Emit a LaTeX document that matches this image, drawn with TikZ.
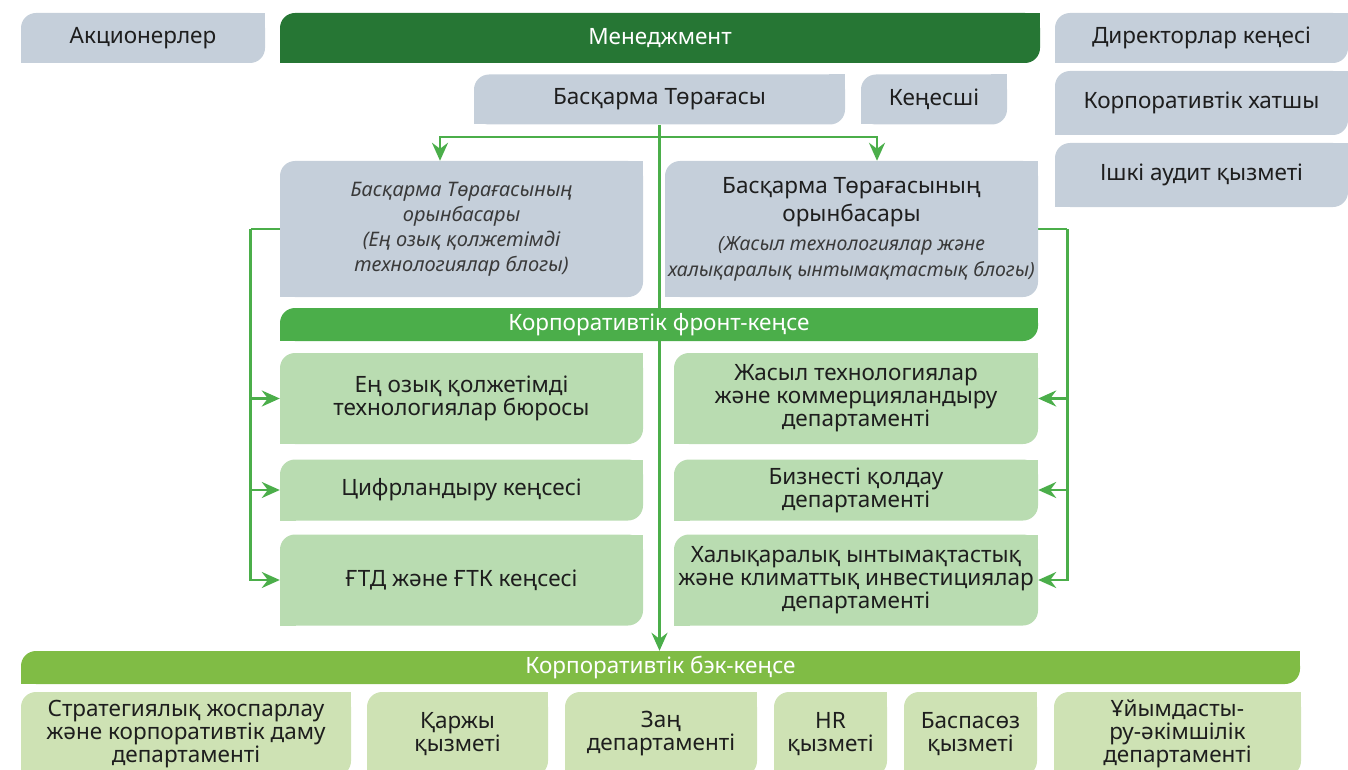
\documentclass[tikz,border=0pt]{standalone}
\usepackage{fontspec}
\setmainfont{Noto Sans}
\usetikzlibrary{arrows.meta,backgrounds}

\definecolor{boxgray}{HTML}{C5CFDA}
\definecolor{darkgreen}{HTML}{267634}
\definecolor{midgreen}{HTML}{4BAE4A}
\definecolor{palegreen}{HTML}{B9DCB1}
\definecolor{limegreen}{HTML}{80BC45}
\definecolor{palelime}{HTML}{CEE2B4}
\definecolor{inkgray}{HTML}{1E1E1E}
\definecolor{softgray}{HTML}{3A3A3A}

\newcommand{\blocknote}[1]{{\itshape\color{softgray}\fontsize{19.5}{25}\selectfont #1}}

\tikzset{
  leaf/.style={rectangle, inner sep=0pt, align=center, text=inkgray,
    font=\fontsize{22.5}{23}\selectfont,
    path picture={
      \fill[#1, rounded corners=15pt] (path picture bounding box.south west)
        rectangle (path picture bounding box.north east);
      \fill[#1] (path picture bounding box.south west) rectangle ++(16pt,16pt);
      \fill[#1] (path picture bounding box.north east) rectangle ++(-16pt,-16pt);
    }},
  bar/.style={leaf=#1, text=white},
  foot/.style={leaf=palelime, minimum height=84, font=\fontsize{22.5}{23}\selectfont},
  link/.style={draw=midgreen, line width=2.8pt},
  tip/.tip={Stealth[length=18pt,width=16pt,inset=6pt]},
}

\begin{document}
\begin{tikzpicture}[x=1pt,y=-1pt]
    \useasboundingbox (0,0) rectangle (1348,770);

    % Top row
    \node[leaf=boxgray, minimum width=244, minimum height=50] (owners) at (143,38) {Акционерлер};
    \node[bar=darkgreen, minimum width=760, minimum height=50] (mgmt) at (660,38) {Менеджмент};
    \node[leaf=boxgray, minimum width=293, minimum height=50] (board) at (1201.5,38) {Директорлар кеңесі};
    \node[leaf=boxgray, minimum width=293, minimum height=64] (secretary) at (1201.5,103) {Корпоративтік хатшы};
    \node[leaf=boxgray, minimum width=293, minimum height=64] (audit) at (1201.5,175) {Ішкі аудит қызметі};

    % Chairman and adviser
    \node[leaf=boxgray, minimum width=371, minimum height=50] (chair) at (659.5,99.5) {Басқарма Төрағасы};
    \node[leaf=boxgray, minimum width=146, minimum height=50] (adviser) at (934,99.5) {Кеңесші};

    % Deputies
    \node[leaf=boxgray, minimum width=363, minimum height=136, text=softgray,
          font=\itshape\fontsize{20}{25}\selectfont] (depL) at (461.5,229)
        {Басқарма Төрағасының\\орынбасары\\(Ең озық қолжетімді\\технологиялар блогы)};
    \node[leaf=boxgray, minimum width=373, minimum height=136] (depR) at (851.5,229)
        {Басқарма Төрағасының\\[5pt]орынбасары\\[6pt]
         \blocknote{(Жасыл технологиялар және}\\[3pt]\blocknote{халықаралық ынтымақтастық блогы)}};

    % Front office
    \node[bar=midgreen, minimum width=758, minimum height=33] (front) at (659,324.5) {Корпоративтік фронт-кеңсе};

    \node[leaf=palegreen, minimum width=363, minimum height=91] (bureau) at (461.5,398.5)
        {Ең озық қолжетімді\\технологиялар бюросы};
    \node[leaf=palegreen, minimum width=363, minimum height=61] (digital) at (461.5,490)
        {Цифрландыру кеңсесі};
    \node[leaf=palegreen, minimum width=363, minimum height=91] (ftd) at (461.5,580)
        {ҒТД және ҒТК кеңсесі};

    \node[leaf=palegreen, minimum width=364, minimum height=91] (greentech) at (856,398.5)
        {Жасыл технологиялар\\және коммерцияландыру\\департаменті};
    \node[leaf=palegreen, minimum width=364, minimum height=61] (business) at (856,490)
        {Бизнесті қолдау\\департаменті};
    \node[leaf=palegreen, minimum width=364, minimum height=91] (climate) at (856,580)
        {Халықаралық ынтымақтастық\\және климаттық инвестициялар\\департаменті};

    % Back office
    \node[bar=limegreen, minimum width=1279, minimum height=33] (back) at (660.5,667.5) {Корпоративтік бэк-кеңсе};

    \node[foot, minimum width=330] (strategy) at (186,734)
        {Стратегиялық жоспарлау\\және корпоративтік даму\\департаменті};
    \node[foot, minimum width=181] (finance) at (457.5,734) {Қаржы\\қызметі};
    \node[foot, minimum width=192] (legal) at (661,734) {Заң\\департаменті};
    \node[foot, minimum width=113] (hr) at (830.5,734) {HR\\қызметі};
    \node[foot, minimum width=133] (press) at (970.5,734) {Баспасөз\\қызметі};
    \node[foot, minimum width=247] (admin) at (1177.5,734) {Ұйымдасты-\\ру-әкімшілік\\департаменті};

    % Connectors behind the boxes
    \begin{scope}[on background layer]
        \draw[link, -{tip}] (chair.south) -- (chair.south |- back.north);
        \coordinate (split) at (chair.south |- 0,137);
        \draw[link, -{tip}] (split) -| ([xshift=-21.5pt]depL.north);
        \draw[link, -{tip}] (split) -| ([xshift=25.5pt]depR.north);

        % Left rail
        \draw[link] (depL.west) -- ++(-29,0) coordinate (railL);
        \draw[link, -{tip}] (railL) |- (bureau.west);
        \draw[link, -{tip}] (railL) |- (digital.west);
        \draw[link, -{tip}] (railL) |- (ftd.west);

        % Right rail
        \draw[link] (depR.east) -- ++(29,0) coordinate (railR);
        \draw[link, -{tip}] (railR) |- (greentech.east);
        \draw[link, -{tip}] (railR) |- (business.east);
        \draw[link, -{tip}] (railR) |- (climate.east);
    \end{scope}
\end{tikzpicture}
\end{document}
